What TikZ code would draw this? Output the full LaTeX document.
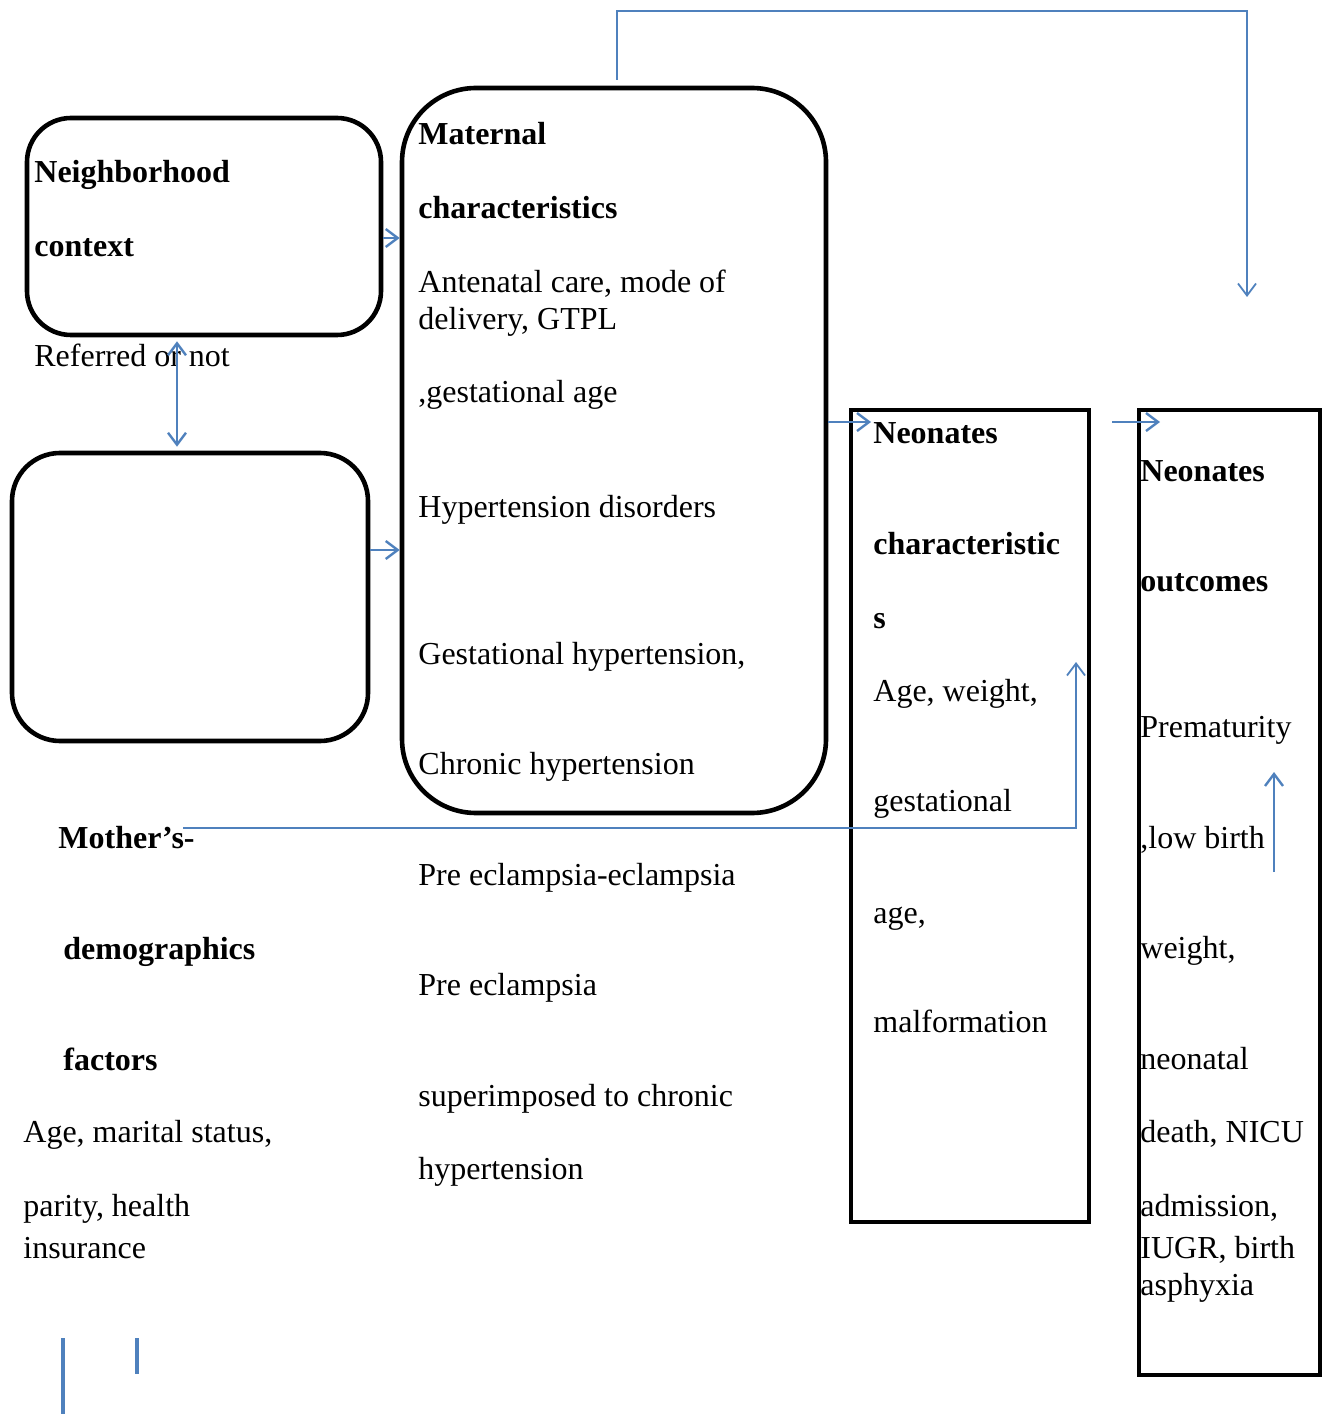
\documentclass[tikz,border=0pt]{standalone}
\usepackage{fontspec}
\setmainfont{Liberation Serif}
\usepackage{xcolor}
\usetikzlibrary{arrows.meta,positioning,calc}
\definecolor{lblue}{HTML}{4F81BD}

\begin{document}
\begin{tikzpicture}[x=0.5pt,y=-0.5pt,font=\fontsize{16}{19}\selectfont,
    rbox/.style={draw=black,line width=2.3pt,rounded corners=22pt,inner sep=0pt},
    sbox/.style={draw=black,line width=1.6pt,inner sep=0pt},
    txt/.style={anchor=base west,inner sep=0pt,yshift=-1pt},
    hd/.style={txt,font=\fontsize{16}{19}\selectfont\bfseries},
    arr/.style={draw=lblue,line width=1.2pt,-{Straight Barb[length=6pt,width=9pt]}},
    arrtwo/.style={arr,{Straight Barb[length=6pt,width=9pt]}-{Straight Barb[length=6pt,width=9pt]}},
    bar/.style={draw=lblue,line width=1.6pt}]
  \useasboundingbox (0,0) rectangle (1323,1416);

  % boxes
  \node[rbox,minimum width=177pt,minimum height=108.5pt] (nbh) at (204,226.5) {};
  \node[rbox,minimum width=178pt,minimum height=144pt,rounded corners=24pt] (empt) at (190,597) {};
  \node[rbox,minimum width=212pt,minimum height=362.5pt,rounded corners=37pt] (mat) at (614,450.5) {};
  \node[sbox,minimum width=119pt,minimum height=406pt] (neoc) at (970,816) {};
  \node[sbox,minimum width=90.5pt,minimum height=482.5pt] (neoo) at (1229.5,892.5) {};

  % neighborhood
  \node[hd] (nbhA) at (34,181) {Neighborhood};
  \node[hd] (nbhB) at (34,255) {context};
  \node[txt] (refd) at (34,365) {Referred or not};

  % maternal characteristics
  \node[hd] (matA) at (418,143) {Maternal};
  \node[hd] (matB) at (418,217) {characteristics};
  \node[txt] (matC) at (418,291) {Antenatal care, mode of};
  \node[txt] (matD) at (418,328) {delivery, GTPL};
  \node[txt] (matE) at (418,401) {,gestational age};
  \node[txt] (matF) at (418,515) {Hypertension disorders};
  \node[txt] (matG) at (418,662) {Gestational hypertension,};
  \node[txt] (matH) at (418,772) {Chronic hypertension};
  \node[txt] (matI) at (418,883) {Pre eclampsia-eclampsia};
  \node[txt] (matJ) at (418,993) {Pre eclampsia};
  \node[txt] (matK) at (418,1104) {superimposed to chronic};
  \node[txt] (matL) at (418,1177) {hypertension};

  % mother's demographics
  \node[hd] (momA) at (58,846) {Mother’s-};
  \node[hd] (momB) at (63,957) {demographics};
  \node[hd] (momC) at (63,1068) {factors};
  \node[txt] (momD) at (23,1140) {Age, marital status,};
  \node[txt] (momE) at (23,1214) {parity, health};
  \node[txt] (momF) at (23,1256) {insurance};

  % neonates characteristics
  \node[hd] (ncA) at (873,442) {Neonates};
  \node[hd] (ncB) at (873,552) {characteristic};
  \node[hd] (ncC) at (873,626) {s};
  \node[txt] (ncD) at (873,699) {Age, weight,};
  \node[txt] (ncE) at (873,809) {gestational};
  \node[txt] (ncF) at (873,921) {age,};
  \node[txt] (ncG) at (873,1030) {malformation};

  % neonates outcomes
  \node[hd] (noA) at (1140,479) {Neonates};
  \node[hd] (noB) at (1140,589) {outcomes};
  \node[txt] (noC) at (1140,735) {Prematurity};
  \node[txt] (noD) at (1140,846) {,low birth};
  \node[txt] (noE) at (1140,956) {weight,};
  \node[txt] (noF) at (1140,1067) {neonatal};
  \node[txt] (noG) at (1140,1140) {death, NICU};
  \node[txt] (noH) at (1140,1214) {admission,};
  \node[txt] (noI) at (1140,1256) {IUGR, birth};
  \node[txt] (noJ) at (1140,1293) {asphyxia};

  % connectors
  \coordinate (nbhy) at (0,238);
  \coordinate (empy) at (0,550);
  \coordinate (vx) at (177,0);
  \coordinate (ncy) at (0,422);
  \draw[arr] (nbh.east |- nbhy) -- (mat.west |- nbhy);
  \draw[arr] (empt.east |- empy) -- (mat.west |- empy);
  \draw[arrtwo] ([yshift=-2pt]nbh.south -| vx) -- ([yshift=2pt]empt.north -| vx);
  \coordinate (ncend) at (871,422);
  \draw[arr] (mat.east |- ncy) -- (ncend);
  \coordinate (nostart) at (1112,422);
  \coordinate (noend) at (1160,422);
  \draw[arr] (nostart) -- (noend);

  \coordinate (topturn) at (617,11);
  \coordinate (outtop) at (1247,297);
  \draw[arr,line width=0.9pt] ([yshift=3pt]mat.north -| topturn) -- (topturn) -| (outtop);

  \coordinate (momline) at (183,828);
  \coordinate (ncup) at (1076,662);
  \draw[arr,line width=0.9pt] (momline) -| (ncup);

  \coordinate (noupA) at (1274,872);
  \coordinate (noupB) at (1274,772);
  \draw[arr] (noupA) -- (noupB);

  \coordinate (barA) at (63,1338);
  \coordinate (barB) at (63,1414);
  \coordinate (barC) at (137,1338);
  \coordinate (barD) at (137,1374);
  \draw[bar] (barA) -- (barB);
  \draw[bar] (barC) -- (barD);
\end{tikzpicture}
\end{document}
